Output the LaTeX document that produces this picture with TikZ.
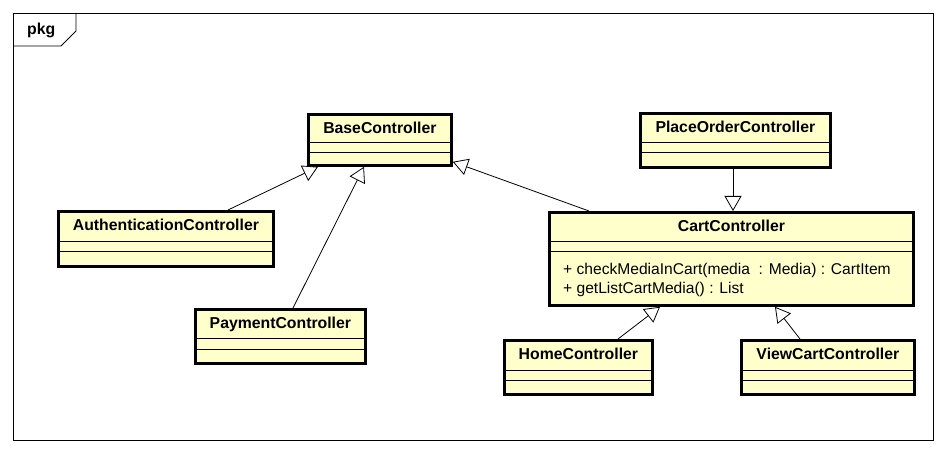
\documentclass[tikz,border=0pt]{standalone}
\usepackage{fontspec}
\setmainfont{Liberation Sans}
\usetikzlibrary{arrows.meta,calc}
\definecolor{clsfill}{HTML}{FFFFCC}
\tikzset{
  cls/.style={draw, line width=2.8pt, fill=clsfill, rectangle, anchor=north west, inner sep=0pt},
  divline/.style={line width=0.8pt},
  clstitle/.style={font=\fontsize{15.8}{19}\selectfont\bfseries, inner sep=0pt, anchor=base},
  method/.style={font=\fontsize{15.6}{19}\selectfont, inner sep=0pt, anchor=base west},
  gen/.style={line width=0.8pt, -{Triangle[length=15pt,width=17pt,fill=white,line width=0.8pt]}},
  framestyle/.style={line width=0.8pt},
}
% name, x, y, w, h, title, d1, d2 (offsets from top)
\newcommand\umlbox[8]{%
  \node[cls, minimum width=#4pt, minimum height=#5pt] (#1) at (#2,#3) {};
  \node[clstitle] (#1-t) at ($(#1.north)+(0,21)$) {#6};
  \draw[divline] ($(#1.north west)+(0,#7)$) -- ($(#1.north east)+(0,#7)$);
  \draw[divline] ($(#1.north west)+(0,#8)$) -- ($(#1.north east)+(0,#8)$);
}
\begin{document}
\begin{tikzpicture}[x=1pt,y=-1pt]
\useasboundingbox (0,0) rectangle (946,454);
\fill[white] (0,0) rectangle (946,454);
% frame
\draw[framestyle] (13,13) rectangle (933,440);
\draw[framestyle] (13,46) -- (61,46) -- (76,31) -- (76,13);
\node[clstitle, anchor=base west] (pkg) at (27,35) {pkg};
% classes
\umlbox{base}{307}{113}{143}{51}{BaseController}{29}{39}
\umlbox{place}{639}{112}{190}{54}{PlaceOrderController}{30}{40}
\umlbox{auth}{57}{210}{215}{55}{AuthenticationController}{31}{41}
\umlbox{pay}{194}{308}{170}{54}{PaymentController}{30}{41}
\umlbox{cart}{548}{211}{364}{93}{CartController}{30}{40}
\umlbox{home}{503}{339}{148}{54}{HomeController}{31}{41}
\umlbox{view}{740}{339}{173}{54}{ViewCartController}{31}{41}
\node[method] (m1) at ($(cart.north west)+(15,64)$) {+ checkMediaInCart(media\ \ : Media) : CartItem};
\node[method] (m2) at ($(cart.north west)+(15,83)$) {+ getListCartMedia() : List};
% generalizations
\draw[gen] ($(auth.north west)+(171,0)$) -- ($(base.south west)+(11,0)$);
\draw[gen] ($(pay.north west)+(99,0)$) -- ($(base.south west)+(57,0)$);
\draw[gen] ($(cart.north west)+(41,0)$) -- ($(base.south east)+(0,-5)$);
\draw[gen] ($(place.south west)+(94,0)$) -- ($(cart.north west)+(185,0)$);
\draw[gen] ($(home.north west)+(115,0)$) -- ($(cart.south west)+(112,0)$);
\draw[gen] ($(view.north west)+(60,0)$) -- ($(cart.south west)+(227,0)$);
\end{tikzpicture}
\end{document}
